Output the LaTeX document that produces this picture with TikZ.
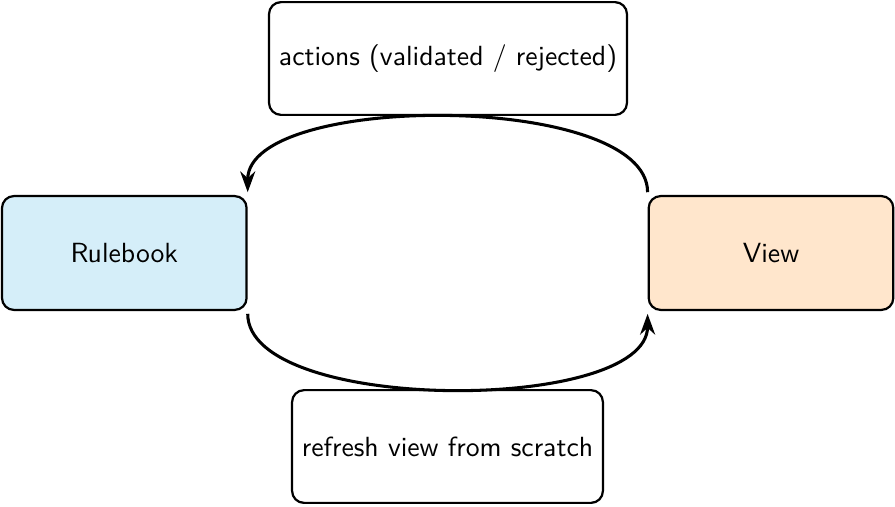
\documentclass[tikz,border=0pt]{standalone}
\usetikzlibrary{arrows.meta}
\definecolor{rulefill}{RGB}{213,238,249}
\definecolor{viewfill}{RGB}{255,230,204}
\begin{document}
\begin{tikzpicture}[x=0.361pt,y=-0.361pt,
  font=\sffamily,
  mainbox/.style={draw, thick, rounded corners=4.3pt, minimum width=88.3pt, minimum height=41.1pt, inner sep=0pt},
  labelbox/.style={draw, thick, rounded corners=4.3pt, minimum height=40.7pt, inner sep=0pt, fill=white},
  flow/.style={line width=1.1pt, -{Stealth[length=7.5pt,width=5.4pt]}, shorten >=1pt, shorten <=1pt}]
\useasboundingbox (0,0) rectangle (895,506);
\node[mainbox, fill=rulefill] (rule) at (124.3,253) {Rulebook};
\node[mainbox, fill=viewfill] (view) at (771,253) {View};
\node[labelbox, minimum width=129.2pt] (act) at (448,58.5) {actions (validated / rejected)};
\node[labelbox, minimum width=112.2pt] (ref) at (447.5,446.5) {refresh view from scratch};
\draw[flow] (view.north west) .. controls +(0,-103) and +(0,-103) .. (rule.north east);
\draw[flow] (rule.south east) .. controls +(0,103) and +(0,103) .. (view.south west);
\end{tikzpicture}
\end{document}
